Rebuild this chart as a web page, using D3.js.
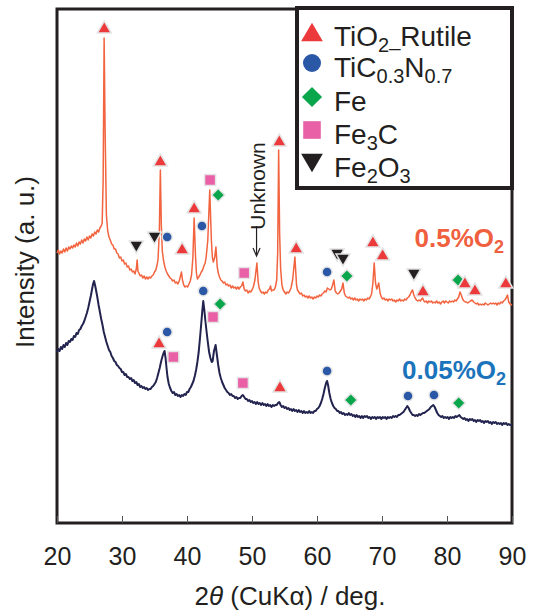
<!DOCTYPE html>
<html><head><meta charset="utf-8">
<script src="https://cdn.jsdelivr.net/npm/d3@7"></script>
<style>
body{margin:0;background:#fff;}
svg{display:block;font-family:"Liberation Sans",Arial,Helvetica,sans-serif;}
</style></head>
<body><svg id="c" width="536" height="612"></svg>
<script>
// ---------- data ----------
const xTicks = [20,30,40,50,60,70,80,90];
const xDomain = [20,90];

// 0.5%O2 trace : [2theta, intensity (a.u.)]
const trace05 = [
[20.0,270],[20.2,273],[20.4,269],[20.6,272],[20.8,270],[21.0,274],[21.2,271],[21.4,275],[21.6,272],[21.8,276],[22.0,274],[22.2,277],[22.4,275],[22.6,278],[22.8,276],[23.0,280],[23.2,277],[23.4,281],[23.6,279],[23.8,283],[24.0,280],[24.2,284],[24.4,282],[24.6,286],[24.8,283],[25.0,287],[25.2,285],[25.4,289],[25.6,287],[25.8,291],[26.0,289],[26.2,293],[26.4,291],[26.6,295],[26.8,297],[26.95,300],
[27.1,343],[27.25,485],[27.4,393],[27.6,308],[27.8,292],[28.0,286],[28.2,283],[28.4,279],[28.6,278],[28.8,274],[29.0,274],[29.2,270],[29.4,269],[29.6,265],[29.8,266],[30.0,262],[30.2,263],[30.4,259],[30.6,260],[30.8,256],[31.0,257],[31.2,253],[31.4,254],[31.6,251],[31.8,252],[32.0,249],[32.2,254],[32.33,263],[32.45,252],[32.6,250],[32.8,247],[33.0,248],[33.2,245],[33.4,247],[33.6,244],[33.8,246],[34.0,244],[34.2,246],[34.4,245],[34.6,247],[34.8,248],[35.0,251],[35.2,253],[35.4,258],[35.55,264],[35.75,293],[35.9,353],[36.05,298],[36.2,272],[36.4,262],[36.6,256],[36.8,252],[37.0,249],[37.2,247],[37.4,245],[37.6,244],[37.8,242],[38.0,243],[38.2,240],[38.4,241],[38.6,239],[38.8,242],[39.0,247],[39.15,251],[39.3,243],[39.5,238],[39.7,236],[39.9,237],[40.1,236],[40.3,239],[40.5,242],[40.7,248],[40.9,265],[41.1,305],[41.3,268],[41.45,250],[41.6,244],[41.8,246],[42.0,248],[42.2,251],[42.4,253],[42.6,257],[42.8,260],[42.95,266],[43.2,283],[43.5,333],[43.75,283],[43.9,266],[44.05,261],[44.25,265],[44.45,276],[44.65,256],[44.85,249],[45.0,246],[45.2,243],[45.4,242],[45.6,240],[45.8,241],[46.0,238],[46.2,239],[46.4,237],[46.6,238],[46.8,235],[47.0,237],[47.2,235],[47.4,236],[47.6,234],[47.8,236],[48.0,234],[48.2,236],[48.4,237],[48.6,241],[48.8,234],[49.0,232],[49.2,233],[49.4,230],[49.6,232],[49.8,231],[50.0,233],[50.2,236],[50.45,243],[50.75,260],[50.95,241],[51.1,235],[51.3,232],[51.5,230],[51.7,231],[51.9,229],[52.1,231],[52.3,230],[52.5,233],[52.7,234],[52.85,237],[53.0,232],[53.2,233],[53.4,233],[53.6,236],[53.8,243],[53.95,270],[54.1,373],[54.25,290],[54.4,255],[54.6,238],[54.8,233],[55.0,231],[55.2,229],[55.4,231],[55.6,230],[55.8,232],[56.0,235],[56.25,243],[56.6,266],[56.85,238],[57.0,233],[57.2,231],[57.4,229],[57.6,230],[57.8,227],[58.0,228],[58.2,226],[58.4,227],[58.6,225],[58.8,227],[59.0,225],[59.2,226],[59.4,224],[59.6,226],[59.8,225],[60.0,227],[60.2,226],[60.4,228],[60.6,227],[60.8,229],[61.0,230],[61.2,232],[61.4,231],[61.6,235],[61.8,234],[62.0,233],[62.2,234],[62.4,238],[62.6,243],[62.8,232],[63.0,230],[63.2,229],[63.4,230],[63.6,232],[63.8,234],[64.0,240],[64.2,230],[64.4,227],[64.6,226],[64.8,225],[65.0,226],[65.2,224],[65.4,225],[65.6,223],[65.8,225],[66.0,223],[66.2,224],[66.4,222],[66.6,224],[66.8,223],[67.0,224],[67.2,222],[67.4,224],[67.6,223],[67.8,225],[68.0,224],[68.2,226],[68.4,229],[68.6,240],[68.8,260],[69.0,240],[69.2,234],[69.4,238],[69.5,240],[69.7,230],[69.9,226],[70.1,224],[70.3,225],[70.5,223],[70.7,224],[70.9,222],[71.1,224],[71.3,223],[71.5,224],[71.7,222],[71.9,223],[72.1,221],[72.3,223],[72.5,222],[72.7,224],[72.9,222],[73.1,223],[73.3,222],[73.5,224],[73.7,223],[73.9,225],[74.1,226],[74.3,228],[74.5,231],[74.7,233],[74.9,228],[75.1,225],[75.3,223],[75.5,222],[75.7,223],[75.9,222],[76.1,224],[76.25,225],[76.45,222],[76.6,221],[76.8,222],[77.0,220],[77.2,222],[77.4,221],[77.6,222],[77.8,220],[78.0,221],[78.2,220],[78.4,222],[78.6,220],[78.8,221],[79.0,219],[79.2,221],[79.4,222],[79.6,220],[79.8,222],[80.0,221],[80.2,220],[80.4,222],[80.6,221],[80.8,222],[81.0,221],[81.2,223],[81.4,222],[81.6,224],[81.8,226],[82.0,231],[82.2,228],[82.4,224],[82.6,222],[82.8,221],[83.0,221],[83.2,220],[83.4,221],[83.6,222],[83.85,223],[84.1,221],[84.3,220],[84.5,219],[84.7,220],[84.9,218],[85.1,219],[85.3,218],[85.5,219],[85.7,218],[85.9,220],[86.1,219],[86.3,218],[86.5,219],[86.7,220],[86.9,219],[87.1,220],[87.3,219],[87.5,220],[87.7,218],[87.9,220],[88.1,219],[88.3,221],[88.5,220],[88.7,222],[88.9,223],[89.1,225],[89.3,228],[89.5,221],[89.7,219],[90.0,218]
];

// 0.05%O2 trace
const trace005 = [
[20.0,171],[20.2,174],[20.4,172],[20.6,176],[20.8,174],[21.0,178],[21.2,176],[21.4,180],[21.6,178],[21.8,182],[22.0,181],[22.2,184],[22.4,183],[22.6,187],[22.8,186],[23.0,190],[23.2,189],[23.4,193],[23.6,194],[23.8,197],[24.0,199],[24.2,202],[24.4,206],[24.6,210],[24.8,215],[25.0,221],[25.2,227],[25.4,234],[25.55,239],[25.7,242],[25.85,238],[26.0,233],[26.2,226],[26.4,218],[26.6,211],[26.8,204],[27.0,198],[27.2,191],[27.4,186],[27.6,181],[27.8,177],[28.0,173],[28.2,171],[28.4,167],[28.6,165],[28.8,162],[29.0,161],[29.2,158],[29.4,157],[29.6,155],[29.8,154],[30.0,151],[30.2,151],[30.4,148],[30.6,149],[30.8,146],[31.0,146],[31.2,144],[31.4,145],[31.6,142],[31.8,143],[32.0,140],[32.2,141],[32.4,138],[32.6,139],[32.8,136],[33.0,137],[33.2,135],[33.4,136],[33.6,134],[33.8,135],[34.0,133],[34.2,134],[34.4,134],[34.6,136],[34.8,137],[35.0,139],[35.2,141],[35.4,145],[35.6,150],[35.8,155],[36.0,161],[36.2,166],[36.4,170],[36.55,172],[36.7,165],[36.85,155],[37.0,146],[37.2,139],[37.4,135],[37.6,132],[37.8,130],[38.0,131],[38.2,128],[38.4,129],[38.6,127],[38.8,128],[39.0,126],[39.2,128],[39.4,127],[39.6,129],[39.8,128],[40.0,131],[40.2,131],[40.4,134],[40.6,136],[40.8,139],[41.0,142],[41.2,147],[41.4,153],[41.6,161],[41.8,171],[42.0,185],[42.2,200],[42.35,212],[42.5,222],[42.65,214],[42.8,204],[43.0,192],[43.2,181],[43.4,171],[43.6,165],[43.8,161],[43.95,162],[44.15,172],[44.4,178],[44.6,168],[44.8,158],[45.0,150],[45.2,145],[45.4,141],[45.6,138],[45.8,135],[46.0,133],[46.2,131],[46.4,130],[46.6,128],[46.8,129],[47.0,127],[47.2,127],[47.4,125],[47.6,126],[47.8,124],[48.0,125],[48.2,125],[48.4,127],[48.6,128],[48.8,126],[49.0,124],[49.2,124],[49.4,122],[49.6,123],[49.8,121],[50.0,122],[50.2,120],[50.4,121],[50.6,119],[50.8,121],[51.0,119],[51.2,120],[51.4,118],[51.6,120],[51.8,118],[52.0,119],[52.2,117],[52.4,119],[52.6,117],[52.8,118],[53.0,116],[53.2,118],[53.4,117],[53.6,118],[53.8,118],[54.0,120],[54.2,121],[54.4,118],[54.6,116],[54.8,117],[55.0,115],[55.2,116],[55.4,114],[55.6,115],[55.8,113],[56.0,114],[56.2,112],[56.4,114],[56.6,112],[56.8,113],[57.0,111],[57.2,113],[57.4,111],[57.6,112],[57.8,110],[58.0,112],[58.2,110],[58.4,111],[58.6,110],[58.8,112],[59.0,110],[59.2,111],[59.4,110],[59.6,112],[59.8,112],[60.0,114],[60.2,115],[60.4,117],[60.6,120],[60.8,124],[61.0,129],[61.2,135],[61.4,140],[61.55,142],[61.7,138],[61.9,130],[62.1,124],[62.3,120],[62.5,117],[62.7,115],[62.9,114],[63.1,112],[63.3,112],[63.5,110],[63.7,111],[63.9,109],[64.1,110],[64.3,108],[64.5,109],[64.7,108],[64.9,110],[65.1,108],[65.3,109],[65.5,107],[65.7,108],[65.9,106],[66.1,108],[66.3,106],[66.5,107],[66.7,105],[66.9,107],[67.1,105],[67.3,107],[67.5,106],[67.7,107],[67.9,105],[68.1,106],[68.3,104],[68.5,106],[68.7,105],[68.9,106],[69.1,104],[69.3,106],[69.5,105],[69.7,106],[69.9,104],[70.1,106],[70.3,105],[70.5,106],[70.7,104],[70.9,106],[71.1,105],[71.3,106],[71.5,105],[71.7,107],[71.9,106],[72.1,107],[72.3,106],[72.5,108],[72.7,108],[72.9,109],[73.1,110],[73.3,111],[73.5,113],[73.7,115],[73.9,117],[74.1,115],[74.3,112],[74.5,110],[74.7,108],[74.9,108],[75.1,107],[75.3,108],[75.5,107],[75.7,109],[75.9,108],[76.1,109],[76.3,110],[76.5,110],[76.7,111],[76.9,112],[77.1,113],[77.3,114],[77.5,116],[77.7,117],[77.9,118],[78.1,116],[78.3,113],[78.5,110],[78.7,108],[78.9,107],[79.1,106],[79.3,107],[79.5,105],[79.7,106],[79.9,105],[80.1,106],[80.3,104],[80.5,106],[80.7,105],[80.9,106],[81.1,105],[81.3,107],[81.5,106],[81.7,107],[81.9,108],[82.1,106],[82.3,105],[82.5,104],[82.7,105],[82.9,103],[83.1,104],[83.3,102],[83.5,104],[83.7,103],[83.9,104],[84.1,102],[84.3,103],[84.5,101],[84.7,103],[84.9,102],[85.1,103],[85.3,101],[85.5,102],[85.7,100],[85.9,102],[86.1,101],[86.3,102],[86.5,100],[86.7,101],[86.9,99],[87.1,101],[87.3,100],[87.5,101],[87.7,99],[87.9,100],[88.1,99],[88.3,100],[88.5,98],[88.7,100],[88.9,99],[89.1,100],[89.3,98],[89.5,99],[89.7,98],[90.0,98]
];

// phase markers : [2theta, intensity position, phase]
const markers05 = [
[27.27,496,"R"],[35.9,363,"R"],[32.2,276,"H"],[35.0,285,"H"],[36.95,286,"C"],[39.25,275,"R"],[41.1,316,"R"],[42.3,297,"C"],[43.55,343,"S"],[44.8,328,"F"],[48.8,250,"S"],[54.2,383,"R"],[56.8,276,"R"],[61.55,251,"C"],[63.1,268,"H"],[64.0,263,"H"],[64.6,247,"F"],[68.6,282,"R"],[70.1,269,"R"],[74.9,248,"H"],[76.3,233,"R"],[81.7,243,"F"],[82.75,241,"R"],[84.3,234,"R"],[89.05,241,"R"]
];
const markers005 = [
[35.7,181,"R"],[36.95,191,"C"],[37.9,166,"S"],[42.5,232,"C"],[44.0,206,"S"],[45.1,219,"F"],[48.6,140,"S"],[54.3,137,"R"],[61.55,152,"C"],[65.2,123,"F"],[74.0,127,"C"],[78.0,128,"C"],[81.8,120,"F"]
];

const phaseKeys = ["R","C","F","S","H"];
const phaseColors = ["#ec3a3c","#2a57a6","#0aa64c","#e960a7","#231f20"];
const sampleLabels = ["0.5%O", "0.05%O"];

// ---------- layout ----------
const svg = d3.select("#c");
const x = d3.scaleLinear().domain(xDomain).range([57,512]);
const y = d3.scaleLinear().domain([0,514]).range([523,9]);
const colorOf = d3.scaleOrdinal().domain(phaseKeys).range(phaseColors);

function shapePath(type, k){
  switch(type){
    case "R": { const w=7*k,h=6*k; return `M0,${-h}L${w},${h}L${-w},${h}Z`; }
    case "H": { const w=7*k,h=6*k; return `M0,${h}L${w},${-h}L${-w},${-h}Z`; }
    case "C": { const r=5*k; return `M${r},0A${r},${r} 0 1,1 ${-r},0A${r},${r} 0 1,1 ${r},0Z`; }
    case "F": { const d=6.5*k; return `M0,${-d}L${d},0L0,${d}L${-d},0Z`; }
    case "S": { const s=5.5*k; return `M${-s},${-s}H${s}V${s}H${-s}Z`; }
  }
}

// frame
svg.append("rect").attr("x",57).attr("y",9).attr("width",455).attr("height",514)
  .attr("fill","none").attr("stroke","#231f20").attr("stroke-width",3);

// axis
const ax = svg.append("g").attr("transform","translate(0,523)")
  .call(d3.axisBottom(x).tickValues(xTicks).tickSize(-7).tickPadding(24).tickFormat(d3.format("d")));
ax.select(".domain").remove();
ax.selectAll(".tick line").attr("stroke","#555").attr("stroke-width",1);
ax.selectAll(".tick text").attr("font-size",25).attr("fill","#231f20")
  .attr("font-family","'Liberation Sans',Arial,sans-serif");

// axis titles
const xt = svg.append("text").attr("x",290).attr("y",605).attr("text-anchor","middle")
  .attr("font-size",26).attr("fill","#231f20");
xt.append("tspan").text("2");
xt.append("tspan").attr("font-style","italic").text("θ");
xt.append("tspan").text(" (CuKα) / deg.");

svg.append("text").attr("transform","translate(34,262) rotate(-90)").attr("text-anchor","middle")
  .attr("font-size",26).attr("fill","#231f20").text("Intensity (a. u.)");

// traces
const line = d3.line().x(d=>x(d[0])).y(d=>y(d[1]));
svg.append("path").datum(trace005).attr("d",line).attr("fill","none")
  .attr("stroke","#22234e").attr("stroke-width",2).attr("stroke-linejoin","round");
svg.append("path").datum(trace05).attr("d",line).attr("fill","none")
  .attr("stroke","#f2643f").attr("stroke-width",1.5).attr("stroke-linejoin","round");

// markers
function drawMarkers(data){
  svg.append("g").selectAll("path").data(data).join("path")
    .attr("transform",d=>`translate(${x(d[0])},${y(d[1])})`)
    .attr("d",d=>shapePath(d[2],1))
    .attr("fill",d=>colorOf(d[2]))
    .attr("stroke","#e4e4e4").attr("stroke-width",1.5);
}
drawMarkers(markers05);
drawMarkers(markers005);

// unknown annotation
svg.append("text").attr("transform",`translate(${x(50.7)+8},186) rotate(-90)`)
  .attr("text-anchor","middle").attr("font-size",21).attr("fill","#231f20").text("Unknown");
svg.append("line").attr("x1",x(50.7)).attr("x2",x(50.7)).attr("y1",226).attr("y2",254)
  .attr("stroke","#231f20").attr("stroke-width",1.2);
svg.append("path").attr("d",`M${x(50.7)-3.5},248L${x(50.7)},256L${x(50.7)+3.5},248`)
  .attr("fill","none").attr("stroke","#231f20").attr("stroke-width",1.2);

// sample labels
const l1 = svg.append("text").attr("x",504).attr("y",247).attr("text-anchor","end")
  .attr("font-size",26).attr("font-weight","bold").attr("fill","#f0603e");
l1.append("tspan").text(sampleLabels[0]);
l1.append("tspan").attr("font-size",18).attr("dy",6).text("2");
const l2 = svg.append("text").attr("x",506).attr("y",379).attr("text-anchor","end")
  .attr("font-size",26).attr("font-weight","bold").attr("fill","#1b74bb");
l2.append("tspan").text(sampleLabels[1]);
l2.append("tspan").attr("font-size",18).attr("dy",6).text("2");

// legend
const lg = svg.append("g");
lg.append("rect").attr("x",297).attr("y",8).attr("width",215).attr("height",180)
  .attr("fill","#fff").attr("stroke","#231f20").attr("stroke-width",4);
const legendRows = [
  {k:"R", parts:[["TiO",28,0],["2",20,6],["_",20,-6],["Rutile",28,0]]},
  {k:"C", parts:[["TiC",28,0],["0.3",20,6],["N",28,-6],["0.7",20,6]]},
  {k:"F", parts:[["Fe",28,0]]},
  {k:"S", parts:[["Fe",28,0],["3",20,6],["C",28,-6]]},
  {k:"H", parts:[["Fe",28,0],["2",20,6],["O",28,-6],["3",20,6]]}
];
const rowY = [32,63,97,130,163];
legendRows.forEach((r,i)=>{
  lg.append("path").attr("transform",`translate(312,${rowY[i]})`)
    .attr("d",shapePath(r.k, r.k==="C"?1.8:(r.k==="S"?1.6:1.55))).attr("fill",colorOf(r.k));
  const t = lg.append("text").attr("x",334).attr("y",rowY[i]+14).attr("fill","#231f20");
  r.parts.forEach(p=>t.append("tspan").attr("font-size",p[1]).attr("dy",p[2]).text(p[0]));
});
</script></body></html>
